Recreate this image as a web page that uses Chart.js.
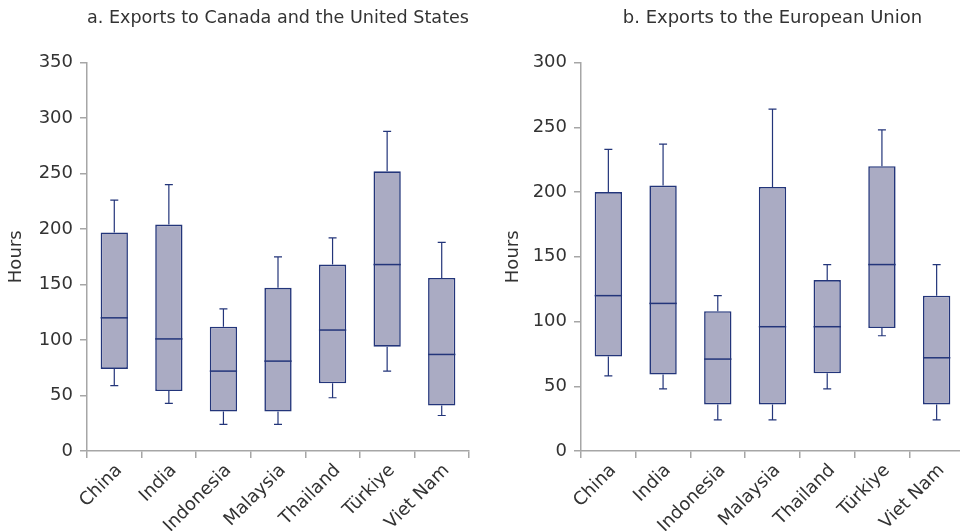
<!DOCTYPE html>
<html>
<head>
<meta charset="utf-8">
<script src="https://cdn.jsdelivr.net/npm/chart.js@4/dist/chart.umd.min.js"></script>
<style>
  html, body { margin: 0; padding: 0; background: #fff; overflow: hidden; }
  #wrap { position: relative; width: 960px; height: 531px; overflow: hidden; }
  #chartUS { position: absolute; left: 0; top: 0; }
  #chartEU { position: absolute; left: 480px; top: 0; }
</style>
</head>
<body>
<div id="wrap">
  <canvas id="chartUS" width="480" height="531"></canvas>
  <canvas id="chartEU" width="490" height="531"></canvas>
</div>
<script>
// Box plots of hours needed, by exporting country

const categories = ['China', 'India', 'Indonesia', 'Malaysia', 'Thailand', 'Türkiye', 'Viet Nam'];

// a. Exports to Canada and the United States
const usMin = [59, 43, 24, 24, 48, 72, 32];
const usQ1 = [74, 54, 35.5, 35.5, 61, 94, 41];
const usMedian = [120, 101, 72, 81, 109, 168, 87];
const usQ3 = [197, 204, 112, 147, 168, 252, 156];
const usMax = [226, 240, 128, 175, 192, 288, 188];
const usTicks = [0, 50, 100, 150, 200, 250, 300, 350];

// b. Exports to the European Union
const euMin = [58, 48, 24, 24, 48, 89, 24];
const euQ1 = [73, 59, 36, 36, 60, 95, 36];
const euMedian = [120, 114, 71, 96, 96, 144, 72];
const euQ3 = [200, 205, 108, 204, 132, 220, 120];
const euMax = [233, 237, 120, 264, 144, 248, 144];
const euTicks = [0, 50, 100, 150, 200, 250, 300];

const COLORS = {
    box: '#aaabc3',
    line: '#23357a',
    axis: '#a6a6a6',
    text: '#333333'
};

const FONT = 'DejaVu Sans';

// whiskers + median drawn on top of the floating bars
const boxPlotPlugin = {
    id: 'boxWhiskers',
    afterDatasetsDraw(chart, args, opts) {
        const ctx = chart.ctx;
        const y = chart.scales.y;
        const meta = chart.getDatasetMeta(0);
        ctx.save();
        ctx.strokeStyle = COLORS.line;
        meta.data.forEach((bar, i) => {
            const half = bar.width / 2;
            const cap = 4;
            const yMin = y.getPixelForValue(opts.min[i]);
            const yMax = y.getPixelForValue(opts.max[i]);
            const yQ1 = y.getPixelForValue(opts.q1[i]);
            const yQ3 = y.getPixelForValue(opts.q3[i]);
            const yMed = y.getPixelForValue(opts.median[i]);

            ctx.lineWidth = 1.2;
            ctx.beginPath();
            ctx.moveTo(bar.x, yQ3); ctx.lineTo(bar.x, yMax);
            ctx.moveTo(bar.x - cap, yMax); ctx.lineTo(bar.x + cap, yMax);
            ctx.moveTo(bar.x, yQ1); ctx.lineTo(bar.x, yMin);
            ctx.moveTo(bar.x - cap, yMin); ctx.lineTo(bar.x + cap, yMin);
            ctx.stroke();

            ctx.lineWidth = 1.5;
            ctx.beginPath();
            ctx.moveTo(bar.x - half, yMed); ctx.lineTo(bar.x + half, yMed);
            ctx.stroke();
        });
        ctx.restore();
    }
};

function makeBoxChart(id, title, q1, q3, median, min, max, ticks, yWidth, padRight, titlePad) {
    const ctx = document.getElementById(id).getContext('2d');
    return new Chart(ctx, {
        type: 'bar',
        data: {
            labels: categories,
            datasets: [{
                data: q1.map((v, i) => [v, q3[i]]),
                backgroundColor: COLORS.box,
                borderColor: COLORS.line,
                borderWidth: 1.6,
                borderSkipped: false,
                categoryPercentage: 1,
                barPercentage: 0.5
            }]
        },
        options: {
            responsive: false,
            animation: false,
            devicePixelRatio: 1,
            layout: { padding: { left: 0, right: padRight, top: 0, bottom: 0 } },
            plugins: {
                legend: { display: false },
                tooltip: { enabled: false },
                title: {
                    display: true,
                    text: title,
                    fullSize: false,
                    color: COLORS.text,
                    font: { family: FONT, size: 18, weight: 'normal' },
                    padding: { top: 8, bottom: 33 }
                },
                boxWhiskers: { q1, q3, median, min, max }
            },
            scales: {
                x: {
                    grid: {
                        display: true,
                        drawOnChartArea: false,
                        offset: true,
                        color: COLORS.axis,
                        tickLength: 7,
                        lineWidth: 1.5
                    },
                    border: { color: COLORS.axis, width: 1.5 },
                    ticks: {
                        color: COLORS.text,
                        font: { family: FONT, size: 18 },
                        minRotation: 45,
                        maxRotation: 45,
                        labelOffset: 5,
                        padding: 2
                    },
                    afterFit(axis) { axis.height = 80; }
                },
                y: {
                    min: 0,
                    max: ticks[ticks.length - 1],
                    afterBuildTicks(axis) { axis.ticks = ticks.map(v => ({ value: v })); },
                    grid: {
                        display: true,
                        drawOnChartArea: false,
                        color: COLORS.axis,
                        tickLength: 7,
                        lineWidth: 1.5
                    },
                    border: { color: COLORS.axis, width: 1.5 },
                    ticks: {
                        color: COLORS.text,
                        font: { family: FONT, size: 18 },
                        padding: 7
                    },
                    title: {
                        display: true,
                        text: 'Hours',
                        color: COLORS.text,
                        font: { family: FONT, size: 18 },
                        padding: { top: titlePad, bottom: 0 }
                    },
                    afterFit(axis) { axis.width = yWidth; }
                }
            }
        },
        plugins: [boxPlotPlugin]
    });
}

makeBoxChart('chartUS', 'a. Exports to Canada and the United States',
    usQ1, usQ3, usMedian, usMin, usMax, usTicks, 87, 11, 6);
makeBoxChart('chartEU', 'b. Exports to the European Union',
    euQ1, euQ3, euMedian, euMin, euMax, euTicks, 101, 6, 23);
</script>
</body>
</html>
